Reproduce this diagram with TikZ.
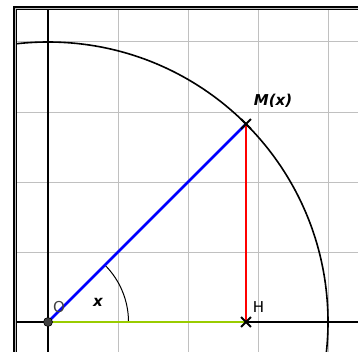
\documentclass[tikz,border=0pt]{standalone}
\usepackage{fontspec}
\setmainfont{DejaVu Sans}
\usetikzlibrary{calc}
\definecolor{gridgray}{RGB}{192,192,192}
\definecolor{segblue}{RGB}{0,0,255}
\definecolor{segred}{RGB}{255,0,0}
\definecolor{seggreen}{RGB}{153,204,0}
\definecolor{framegray}{RGB}{190,190,190}
\definecolor{ptgray}{RGB}{64,64,64}
\begin{document}
\begin{tikzpicture}[x=70pt,y=70pt,
  gridline/.style={draw=gridgray, line width=1pt},
  axisline/.style={draw=black, line width=1.1pt},
  seg/.style={line width=2.6pt},
  crossmark/.style={draw=black, line width=1.8pt},
  lbl/.style={font=\fontsize{15}{18}\selectfont, inner sep=0pt},
  blbl/.style={font=\fontsize{15}{18}\selectfont\bfseries\itshape, inner sep=0pt}
]
\useasboundingbox (-48/70,-29/70) rectangle (310/70,322/70);
\coordinate (O) at (0,0);
\coordinate (M) at ({2*sqrt(2)},{2*sqrt(2)});
\coordinate (H) at ({2*sqrt(2)},0);
\begin{scope}
\clip (-0.468,-1) rectangle (6,4.482);
\foreach \i in {1,2,3,4} {
  \draw[gridline] (\i,-1) -- (\i,5);
  \draw[gridline] (-1,\i) -- (6,\i);
}
\draw[axisline] (-1,0) -- (6,0);
\draw[axisline] (0,-1) -- (0,5);
\draw[line width=1.6pt] (O) circle (4);
\draw[line width=1pt] (1.15,0) arc (0:45:1.15);
\draw[seg, draw=seggreen] (O) -- (H);
\draw[seg, draw=segblue] (O) -- (M);
\draw[seg, draw=segred] (M) -- (H);
\foreach \p in {M,H} {
  \draw[crossmark] ($(\p)+(-0.07,-0.07)$) -- ($(\p)+(0.07,0.07)$);
  \draw[crossmark] ($(\p)+(-0.07,0.07)$) -- ($(\p)+(0.07,-0.07)$);
}
\node[circle, fill=ptgray, draw=black, line width=0.6pt, minimum size=9pt, inner sep=0pt] (Odot) at (O) {};
\end{scope}
\draw[line width=4pt, black] (-0.468,-2) rectangle (6,4.482);
\draw[line width=1.3pt, framegray] (-0.468,-2) rectangle (6,4.482);
\node[lbl, text=ptgray] (Olbl) at (0.157,0.214) {O};
\node[lbl] (Hlbl) at (3.007,0.207) {H};
\node[blbl] (xlbl) at (0.714,0.286) {x};
\node[blbl] (Mlbl) at (3.214,3.164) {M(x)};
\end{tikzpicture}
\end{document}
